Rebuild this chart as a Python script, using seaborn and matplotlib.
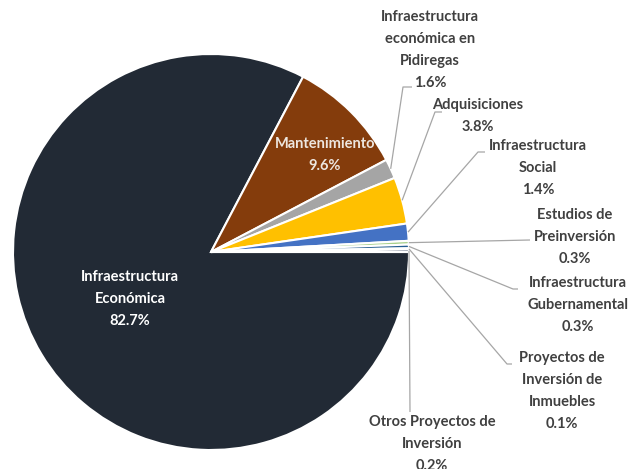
import numpy as np
import matplotlib
matplotlib.use("Agg")
import matplotlib.pyplot as plt
import seaborn as sns

# Data
categories = ["Infraestructura\nEconómica", "Mantenimiento", "Infraestructura\neconómica en\nPidiregas",
              "Adquisiciones", "Infraestructura\nSocial", "Estudios de\nPreinversión",
              "Infraestructura\nGubernamental", "Proyectos de\nInversión de\nInmuebles",
              "Otros Proyectos de\nInversión"]
shares = [82.7, 9.6, 1.6, 3.8, 1.4, 0.3, 0.3, 0.1, 0.2]
colors = ["#222A35", "#843C0C", "#A5A5A5", "#FFC000", "#4472C4", "#A9D18E", "#255E91", "#9DB3D6", "#1F2D4A"]

sns.set_theme(style="white")
plt.rcParams["font.family"] = ["Lato", "DejaVu Sans"]

W, H = 635, 469
fig = plt.figure(figsize=(W / 100, H / 100), dpi=100)
ax = fig.add_axes([0, 0, 1, 1])

cx, cy, r = 211, H - 252, 198
wedges, _ = ax.pie(shares, colors=colors, startangle=0, counterclock=False,
                   center=(cx, cy), radius=r, frame=True,
                   wedgeprops=dict(edgecolor="white", linewidth=1.5))
ax.set_xlim(0, W)
ax.set_ylim(0, H)
ax.set_aspect("equal")
ax.axis("off")

lbl_color = "#404040"
fs = 10.5
ls = 1.7

def txt(i):
    return f"{categories[i]}\n{shares[i]:.1f}%"

# inside labels
ax.text(130, H - 299, txt(0), ha="center", va="center", color="white",
        fontsize=fs, fontweight="bold", linespacing=ls)
ax.text(325, H - 155, txt(1), ha="center", va="center", color="#EDE6DF",
        fontsize=fs, fontweight="bold", linespacing=ls)

# outside labels: (text x, text y, elbow x, elbow y, end x) in pixel space
outside = {
    2: (430, 50, 403, 87, 412),
    3: (478, 116, 435, 112, 442),
    4: (538, 168, 478, 152, 485),
    5: (575, 237, 530, 240, 530),
    6: (578, 305, 513, 289, 518),
    7: (562, 391, 507, 364, 512),
    8: (432, 444, 410, 412, 410),
}
for i, (tx, ty, ex, ey, endx) in outside.items():
    w = wedges[i]
    ang = np.deg2rad((w.theta1 + w.theta2) / 2)
    px, py = cx + r * np.cos(ang), cy + r * np.sin(ang)
    ax.plot([px, ex, endx], [py, H - ey, H - ey], color="#A6A6A6", lw=0.9,
            solid_capstyle="butt")
    ax.text(tx, H - ty, txt(i), ha="center", va="center", color=lbl_color,
            fontsize=fs, fontweight="bold", linespacing=ls)

fig.savefig("out.png", dpi=100, facecolor="white")
